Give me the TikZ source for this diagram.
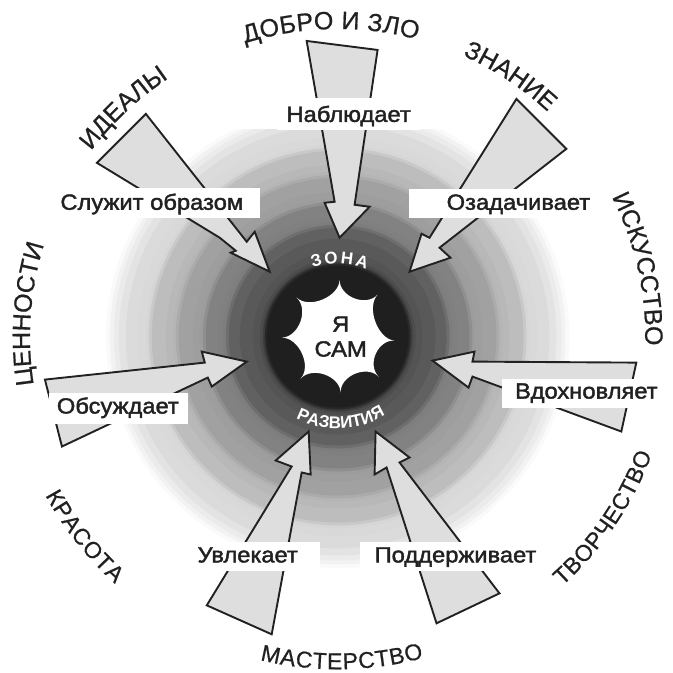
\documentclass[tikz,border=0pt]{standalone}
\usepackage{fontspec}
\setmainfont{Liberation Sans}
\newfontfamily\labfont[FakeBold=1.9,FakeStretch=1.08]{Liberation Sans}
\newfontfamily\curvefont[FakeBold=0.7]{Liberation Sans}
\newfontfamily\whitefont{Liberation Sans Bold}
\usetikzlibrary{decorations.text}
\definecolor{ink}{gray}{0.13}
\definecolor{arrowfill}{gray}{0.87}
\tikzset{
  arrowshape/.style={draw=ink,fill=arrowfill,line width=1.9pt,line join=miter,miter limit=6},
  labelbox/.style={fill=white,draw=none},
  labeltext/.style={font=\labfont\fontsize{22}{25}\selectfont,text=ink,anchor=base,inner sep=0pt},
  curved/.style={decorate,decoration={text along path,text color=ink,text align={fit to path},text={|\curvefont\fontsize{25}{28}\selectfont|#1}}},
  curvedsmall/.style={decorate,decoration={text along path,text color=ink,text align={fit to path},text={|\curvefont\fontsize{23}{26}\selectfont|#1}}},
  whitecurved/.style={decorate,decoration={text along path,text color=white,text align={fit to path},text={|\whitefont\fontsize{17}{19}\selectfont|#1}}},
}
\newcommand{\lbl}[8]{%
  \fill[labelbox] (#2,#3) rectangle (#4,#5);
  \node[labeltext] (#1) at (#6,#7) {#8};}
\begin{document}
\begin{tikzpicture}[x=1pt,y=1pt]
\begin{scope}[y=-1pt]
\useasboundingbox (0,0) rectangle (673,672);
\coordinate (c) at (338,337);
\begin{scope}
\clip (0,130) rectangle (673,672);
\foreach \r/\v in {232/2,228/5,224/8,219/11,212/14,200/15,192/16,189/21,186/26,172/28,
  165/29,162/33,159/37,145/38,138/39,135/44,132/49,120/50,115/51,112/57,109/62,98/65,
  85/67,78/70,75/76,73/84,71/88}
  \fill[black!\v!white] (c) circle[radius=\r];
\end{scope}
% star
\fill[white] (340,280) .. controls (339.7,297) and (366.3,307.6) .. (378,295)
  .. controls (366.3,307.6) and (378.2,339.8) .. (395,341)
  .. controls (378.2,339.8) and (367,365) .. (379,377)
  .. controls (367,365) and (340.4,376.2) .. (341,393)
  .. controls (340.4,376.2) and (312.4,366.4) .. (301,379)
  .. controls (312.4,366.4) and (299.1,337.7) .. (282,338)
  .. controls (299.1,337.7) and (309.6,309.7) .. (297,298)
  .. controls (309.6,309.7) and (339.7,297) .. (340,280) -- cycle;
% arrows
\draw[arrowshape] (146,114) -- (247,242) -- (255,232) -- (270,272) -- (231,253) -- (236,251) -- (220,238) -- (97,163) -- cycle;
\draw[arrowshape] (307,41) -- (378,50) -- (355,205) -- (370,207) -- (340,238) -- (325,203) -- (335,202) -- cycle;
\draw[arrowshape] (517,99) -- (567,149) -- (440,248) -- (451,258) -- (410,272) -- (422,234) -- (430,238) -- cycle;
\draw[arrowshape] (433,361) -- (475,352) -- (473,362) -- (637,363) -- (622,432) -- (473,377) -- (469,388) -- cycle;
\draw[arrowshape] (376,432) -- (410,458) -- (400,463) -- (500,594) -- (437,624) -- (387,468) -- (375,475) -- cycle;
\draw[arrowshape] (309,432) -- (311,475) -- (302,473) -- (272,635) -- (207,606) -- (292,467) -- (276,461) -- cycle;
\draw[arrowshape] (247,362) -- (212,387) -- (208,378) -- (62,447) -- (45,380) -- (205,363) -- (202,352) -- cycle;
% labels
\lbl{sluzhit}{50}{188}{260}{218}{152}{210}{Служит образом}
\lbl{nabl}{277}{98}{421}{130}{349}{122}{Наблюдает}
\lbl{ozad}{409}{189}{592}{218}{519}{210}{Озадачивает}
\lbl{vdoh}{503}{379}{660}{408}{587}{399}{Вдохновляет}
\lbl{obs}{49}{393}{188}{424}{118}{414}{Обсуждает}
\lbl{uvl}{190}{543}{320}{572}{248}{563}{Увлекает}
\lbl{podd}{360}{543}{540}{572}{456}{563}{Поддерживает}
\node[font=\labfont\fontsize{22}{25}\selectfont,text=ink,align=center,inner sep=0pt] (yasam) at (341,337) {Я\\САМ};
\end{scope}
% curved texts: polar around the centre (338,-337)
\begin{scope}[shift={(338,-337)}]
\path[curved={ДОБРО И ЗЛО}] (107.5:308) arc[start angle=107.5,end angle=75,radius=308];
\path[curved={ЗНАНИЕ}] (66:308) arc[start angle=66,end angle=47.5,radius=308];
\path[curved={ИСКУССТВО}] (27:308) arc[start angle=27,end angle=-1,radius=308];
\path[curvedsmall={ТВОРЧЕСТВО}] (-48:336) arc[start angle=-48,end angle=-20.5,radius=336];
\path[curvedsmall={МАСТЕРСТВО}] (256.5:333) arc[start angle=256.5,end angle=285,radius=333];
\path[curvedsmall={КРАСОТА}] (208.5:333) arc[start angle=208.5,end angle=228,radius=333];
\path[curved={ЦЕННОСТИ}] (189:308) arc[start angle=189,end angle=163.5,radius=308];
\path[curved={ИДЕАЛЫ}] (143:309) arc[start angle=143,end angle=124.5,radius=309];
\path[whitecurved={ЗОНА}] (110:73) arc[start angle=110,end angle=67,radius=73];
\path[whitecurved={РАЗВИТИЯ}] (243:92) arc[start angle=243,end angle=301,radius=92];
\end{scope}
\end{tikzpicture}
\end{document}
